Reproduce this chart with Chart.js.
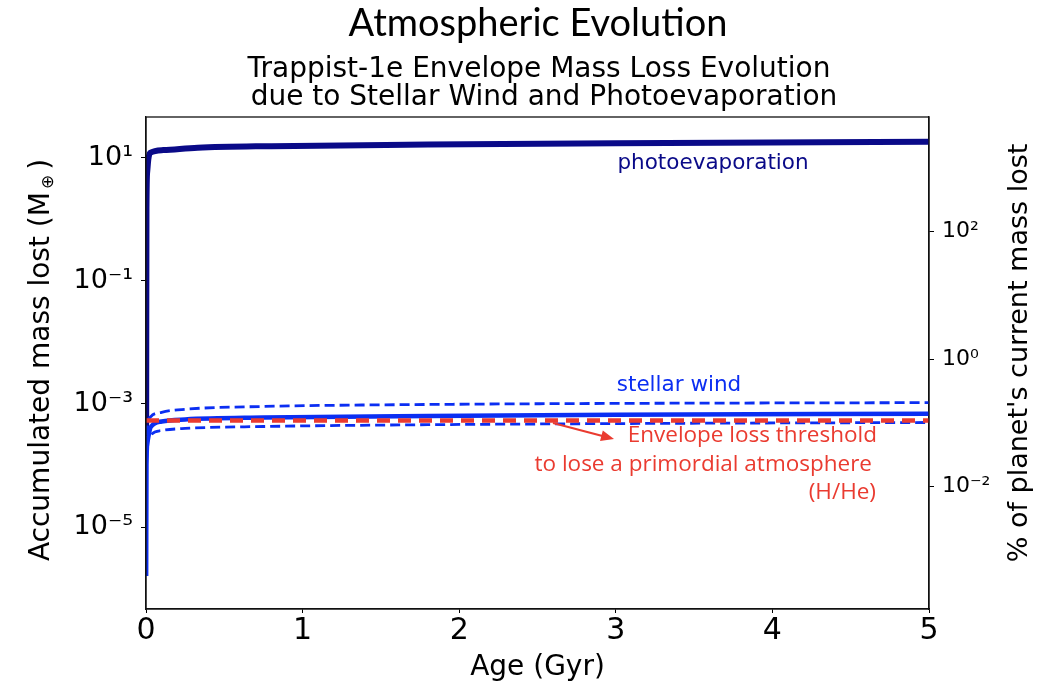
<!DOCTYPE html>
<html>
<head>
<meta charset="utf-8">
<script src="https://cdn.jsdelivr.net/npm/chart.js@4.4.0/dist/chart.umd.min.js"></script>
<style>
  body { margin: 0; background: #fff; }
  #wrap { width: 1056px; height: 686px; position: relative; }
</style>
</head>
<body>
<div id="wrap"><canvas id="atmo-chart"></canvas></div>
<script>
// Photoevaporation (accumulated mass lost, Earth masses)
const photoAge = [0.001, 0.003, 0.008, 0.015, 0.027, 0.11, 0.33, 0.8, 1.8, 3, 5];
const photoMass = [3e-4, 1.5, 6, 9.5, 12, 13.3, 14.5, 15.4, 16.3, 17.2, 18.2];

// Stellar wind: nominal curve and upper / lower bounds
const windAge = [0.001, 0.003, 0.01, 0.03, 0.1, 0.25, 0.75, 1.8, 3, 5];
const windMass = [1.6e-6, 1e-4, 2.5e-4, 4.2e-4, 5.2e-4, 5.6e-4, 6.0e-4, 6.4e-4, 6.7e-4, 6.9e-4];
const windUpper = [1e-4, 2e-4, 4.5e-4, 6.2e-4, 7.3e-4, 8.2e-4, 9.1e-4, 9.8e-4, 1.02e-3, 1.05e-3];
const windLower = [2e-5, 8e-5, 2e-4, 3.1e-4, 3.7e-4, 4.0e-4, 4.3e-4, 4.6e-4, 4.8e-4, 5.0e-4];

// Envelope loss threshold (H/He)
const thresholdAge = [0, 5];
const thresholdMass = [5.4e-4, 5.4e-4];

// Axis ticks
const ageTicks = [0, 1, 2, 3, 4, 5];
const leftTickValues = [1e1, 1e-1, 1e-3, 1e-5];
const leftTickLabels = ['10\u00b9', '10\u207b\u00b9', '10\u207b\u00b3', '10\u207b\u2075'];
const rightTickValues = [1e2, 1e0, 1e-2];
const rightTickLabels = ['10\u00b2', '10\u2070', '10\u207b\u00b2'];

// Axis limits
const leftMin = 4.67e-7, leftMax = 45.8;
const rightMin = 1.19e-4, rightMax = 6295;

const NAVY = '#0a0a88';
const BLUE = '#0b2ef2';
const RED = '#ea3b30';
const FONT = "'DejaVu Sans', sans-serif";

function toPoints(xs, ys) {
    return xs.map((x, i) => ({ x: x, y: ys[i] }));
}

// Draws titles, frame and annotations
const decorPlugin = {
    id: 'decor',
    afterDraw(chart) {
        const ctx = chart.ctx;
        const area = chart.chartArea;
        ctx.save();

        // frame
        ctx.strokeStyle = '#111';
        ctx.lineWidth = 1.3;
        ctx.strokeRect(area.left, area.top, area.right - area.left, area.bottom - area.top);

        // titles
        ctx.fillStyle = '#000';
        ctx.textAlign = 'center';
        ctx.textBaseline = 'middle';
        ctx.font = "38px Lato, 'Open Sans', sans-serif";
        ctx.fillText('Atmospheric Evolution', 538, 24);
        ctx.font = '28px ' + FONT;
        ctx.fillText('Trappist-1e Envelope Mass Loss Evolution', 539, 70);
        ctx.fillText('due to Stellar Wind and Photoevaporation', 544, 98);

        // left axis title with subscript
        ctx.save();
        ctx.translate(42, 360);
        ctx.rotate(-Math.PI / 2);
        ctx.font = '28px ' + FONT;
        const mainTxt = 'Accumulated mass lost (M';
        const w1 = ctx.measureText(mainTxt).width;
        ctx.font = '17px ' + FONT;
        const w2 = ctx.measureText('\u2295').width;
        ctx.font = '28px ' + FONT;
        const w3 = ctx.measureText(')').width;
        let start = -(w1 + w2 + 8 + w3) / 2;
        ctx.textAlign = 'left';
        ctx.fillText(mainTxt, start, 0);
        ctx.font = '17px ' + FONT;
        ctx.fillText('\u2295', start + w1 + 3, 7);
        ctx.font = '28px ' + FONT;
        ctx.fillText(')', start + w1 + w2 + 8, 0);
        ctx.restore();

        // right axis title
        ctx.save();
        ctx.translate(1020, 353);
        ctx.rotate(-Math.PI / 2);
        ctx.font = '27px ' + FONT;
        ctx.fillText("% of planet's current mass lost", 0, 0);
        ctx.restore();

        // curve labels
        ctx.font = '21.5px ' + FONT;
        ctx.fillStyle = NAVY;
        ctx.fillText('photoevaporation', 713, 163);
        ctx.fillStyle = BLUE;
        ctx.fillText('stellar wind', 679, 385);

        // threshold annotation
        ctx.fillStyle = RED;
        ctx.textAlign = 'right';
        ctx.font = "22.5px 'Open Sans', sans-serif";
        ctx.fillText('Envelope loss threshold', 877, 436);
        ctx.fillText('to lose a primordial atmosphere', 872, 465);
        ctx.fillText('(H/He)', 876, 493);

        // arrow
        const x0 = 553, y0 = 423, x1 = 614, y1 = 439;
        const ang = Math.atan2(y1 - y0, x1 - x0);
        ctx.strokeStyle = RED;
        ctx.lineWidth = 2.2;
        ctx.beginPath();
        ctx.moveTo(x0, y0);
        ctx.lineTo(x1 - 8 * Math.cos(ang), y1 - 8 * Math.sin(ang));
        ctx.stroke();
        ctx.beginPath();
        ctx.moveTo(x1, y1);
        ctx.lineTo(x1 - 13 * Math.cos(ang) + 5.5 * Math.sin(ang), y1 - 13 * Math.sin(ang) - 5.5 * Math.cos(ang));
        ctx.lineTo(x1 - 13 * Math.cos(ang) - 5.5 * Math.sin(ang), y1 - 13 * Math.sin(ang) + 5.5 * Math.cos(ang));
        ctx.closePath();
        ctx.fill();

        ctx.restore();
    }
};

const ctx = document.getElementById('atmo-chart').getContext('2d');
new Chart(ctx, {
    type: 'line',
    data: {
        datasets: [
            {
                label: 'threshold',
                data: toPoints(thresholdAge, thresholdMass),
                borderColor: RED,
                borderWidth: 4.5,
                borderDash: [13, 8],
                order: 0
            },
            {
                label: 'stellar wind',
                data: toPoints(windAge, windMass),
                borderColor: BLUE,
                borderWidth: 4.5,
                cubicInterpolationMode: 'monotone',
                order: 1
            },
            {
                label: 'stellar wind upper',
                data: toPoints(windAge, windUpper),
                borderColor: BLUE,
                borderWidth: 2.8,
                borderDash: [10, 5],
                cubicInterpolationMode: 'monotone',
                order: 2
            },
            {
                label: 'stellar wind lower',
                data: toPoints(windAge, windLower),
                borderColor: BLUE,
                borderWidth: 2.8,
                borderDash: [10, 5],
                cubicInterpolationMode: 'monotone',
                order: 3
            },
            {
                label: 'photoevaporation',
                data: toPoints(photoAge, photoMass),
                borderColor: NAVY,
                borderWidth: 6,
                cubicInterpolationMode: 'monotone',
                order: 4
            }
        ]
    },
    options: {
        responsive: true,
        maintainAspectRatio: false,
        animation: false,
        layout: { padding: { top: 117, left: 0, right: 0, bottom: 0 } },
        elements: { point: { radius: 0 } },
        plugins: {
            legend: { display: false },
            tooltip: { enabled: false }
        },
        scales: {
            x: {
                type: 'linear',
                min: 0,
                max: 5,
                afterBuildTicks: (axis) => { axis.ticks = ageTicks.map(v => ({ value: v })); },
                afterFit: (axis) => { axis.height = 77; },
                grid: { drawOnChartArea: false, tickLength: 4, color: '#000' },
                border: { color: '#111', width: 1.3 },
                ticks: { color: '#000', font: { family: FONT, size: 30 }, padding: 0 },
                title: {
                    display: true,
                    text: 'Age (Gyr)',
                    color: '#000',
                    font: { family: FONT, size: 28 },
                    padding: { top: 0, bottom: 1 }
                }
            },
            y: {
                type: 'logarithmic',
                position: 'left',
                min: leftMin,
                max: leftMax,
                afterBuildTicks: (axis) => { axis.ticks = leftTickValues.map(v => ({ value: v })); },
                afterFit: (axis) => { axis.width = 146; },
                grid: { drawOnChartArea: false, tickLength: 5, color: '#000' },
                border: { color: '#111', width: 1.3 },
                ticks: {
                    color: '#000',
                    font: { family: FONT, size: 27 },
                    padding: 8,
                    callback: (v) => leftTickLabels[leftTickValues.indexOf(v)]
                }
            },
            yPercent: {
                type: 'logarithmic',
                position: 'right',
                min: rightMin,
                max: rightMax,
                afterBuildTicks: (axis) => { axis.ticks = rightTickValues.map(v => ({ value: v })); },
                afterFit: (axis) => { axis.width = 127; },
                grid: { drawOnChartArea: false, tickLength: 5, color: '#000' },
                border: { color: '#111', width: 1.3 },
                ticks: {
                    color: '#000',
                    font: { family: FONT, size: 22 },
                    padding: 8,
                    callback: (v) => rightTickLabels[rightTickValues.indexOf(v)]
                }
            }
        }
    },
    plugins: [decorPlugin]
});
</script>
</body>
</html>
